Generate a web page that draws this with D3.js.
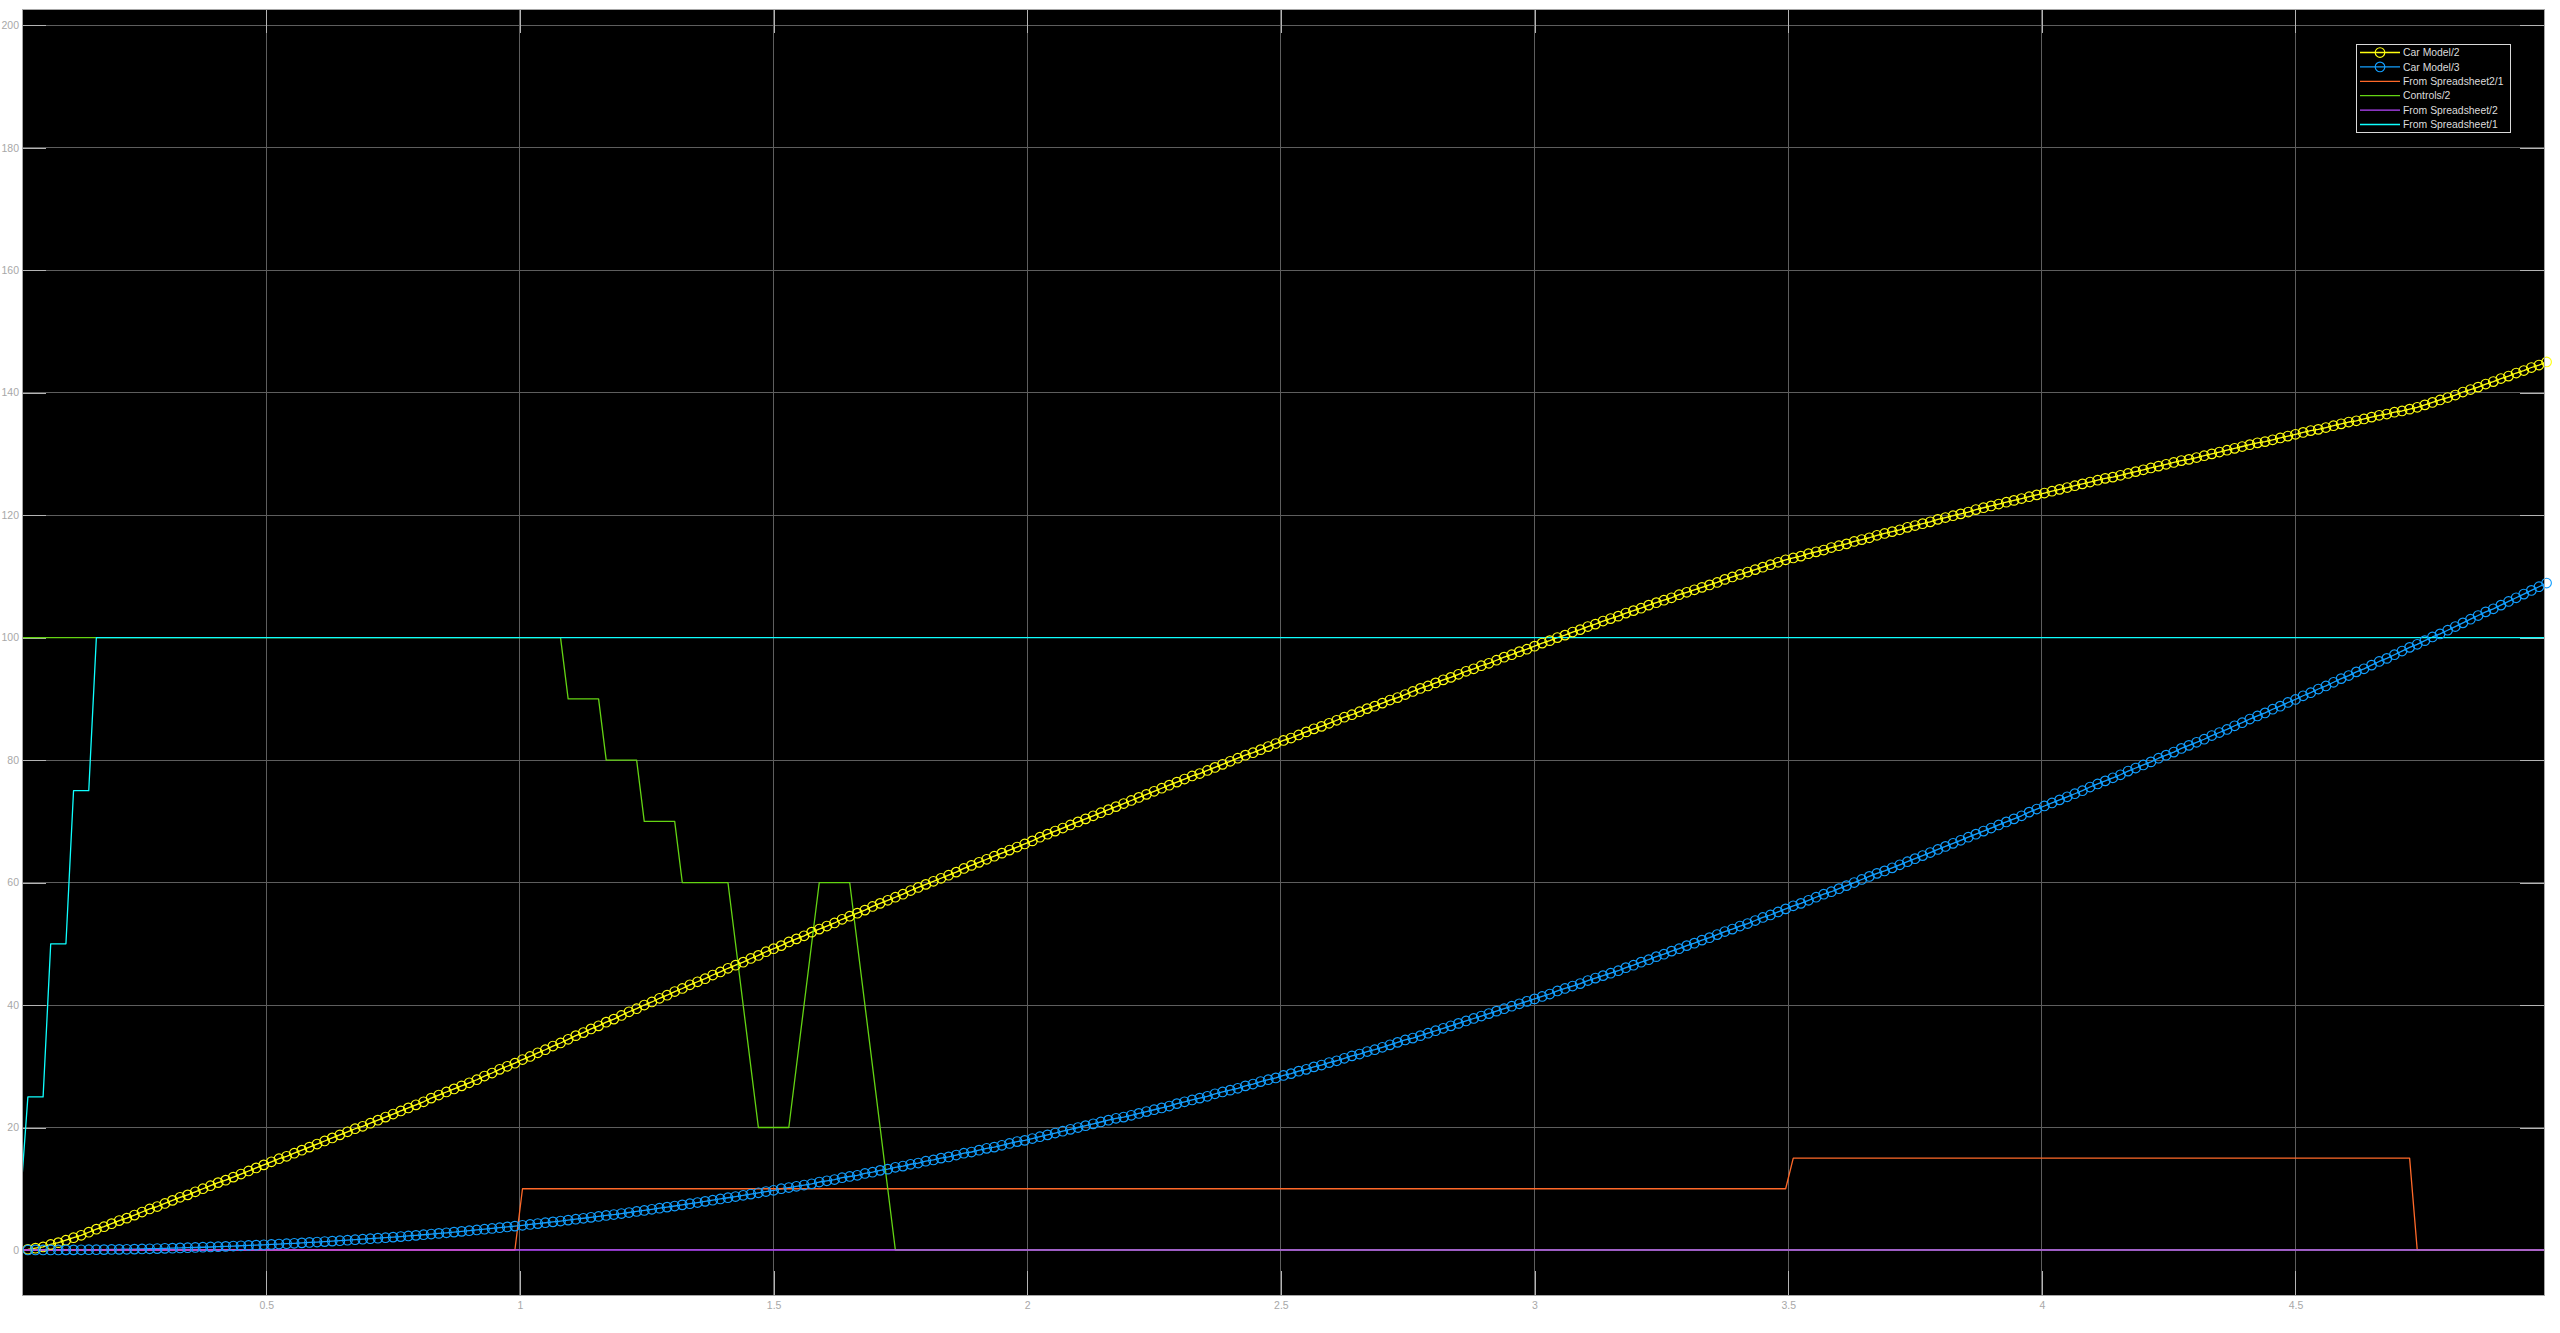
<!DOCTYPE html>
<html>
<head>
<meta charset="utf-8">
<script src="https://cdn.jsdelivr.net/npm/d3@7"></script>
<style>
  html, body {
    margin: 0;
    padding: 0;
    background: #fff;
  }

  svg {
    display: block;
    font-family: "Liberation Sans", Arial, sans-serif;
  }

  .tick text {
    fill: #a8a8a8;
    font-size: 10.5px;
  }

  .tick line {
    stroke: #b4b4b4;
  }
</style>
</head>
<body>
<svg id="chart" width="2560" height="1333"></svg>
<script>
//

// sample grid of the logged signals (seconds)
const sampleStart = 0.015
const sampleStep = 0.015

// Car Model/2, one value per logged sample
const carModel2 = [
  0.0, 0.1, 0.3, 0.5, 0.9, 1.2, 1.6, 2.0, 2.4, 2.9,
  3.4, 3.8, 4.3, 4.8, 5.2, 5.7, 6.2, 6.7, 7.1, 7.6,
  8.1, 8.6, 9.0, 9.5, 10.0, 10.5, 11.0, 11.4, 11.9, 12.4,
  12.9, 13.4, 13.9, 14.4, 14.9, 15.3, 15.8, 16.3, 16.8, 17.3,
  17.8, 18.3, 18.8, 19.3, 19.8, 20.2, 20.7, 21.2, 21.7, 22.2,
  22.7, 23.2, 23.7, 24.2, 24.8, 25.3, 25.8, 26.3, 26.8, 27.3,
  27.8, 28.4, 28.9, 29.5, 30.0, 30.5, 31.1, 31.6, 32.2, 32.7,
  33.3, 33.8, 34.4, 35.0, 35.5, 36.1, 36.6, 37.2, 37.7, 38.3,
  38.9, 39.4, 40.0, 40.5, 41.1, 41.6, 42.2, 42.7, 43.3, 43.8,
  44.3, 44.9, 45.4, 46.0, 46.5, 47.0, 47.6, 48.1, 48.7, 49.2,
  49.7, 50.3, 50.8, 51.3, 51.9, 52.4, 52.9, 53.4, 54.0, 54.5,
  55.0, 55.5, 56.1, 56.6, 57.1, 57.6, 58.1, 58.7, 59.2, 59.7,
  60.2, 60.7, 61.2, 61.7, 62.3, 62.8, 63.3, 63.8, 64.3, 64.8,
  65.3, 65.8, 66.3, 66.8, 67.4, 67.9, 68.4, 68.9, 69.4, 69.9,
  70.4, 70.9, 71.4, 71.9, 72.4, 72.9, 73.4, 73.9, 74.4, 74.9,
  75.4, 75.9, 76.4, 76.9, 77.4, 77.8, 78.3, 78.8, 79.3, 79.8,
  80.3, 80.8, 81.2, 81.7, 82.2, 82.7, 83.2, 83.6, 84.1, 84.6,
  85.1, 85.5, 86.0, 86.5, 87.0, 87.4, 87.9, 88.4, 88.8, 89.3,
  89.8, 90.2, 90.7, 91.2, 91.7, 92.1, 92.6, 93.1, 93.5, 94.0,
  94.5, 94.9, 95.4, 95.8, 96.3, 96.8, 97.2, 97.7, 98.1, 98.6,
  99.1, 99.5, 100.0, 100.4, 100.9, 101.3, 101.8, 102.2, 102.7, 103.1,
  103.5, 104.0, 104.4, 104.8, 105.3, 105.7, 106.1, 106.5, 107.0, 107.4,
  107.8, 108.2, 108.6, 109.0, 109.5, 109.9, 110.3, 110.7, 111.1, 111.5,
  111.9, 112.3, 112.7, 113.0, 113.3, 113.7, 114.0, 114.3, 114.7, 115.0,
  115.3, 115.7, 116.0, 116.3, 116.7, 117.0, 117.3, 117.6, 118.0, 118.3,
  118.6, 118.9, 119.3, 119.6, 119.9, 120.2, 120.5, 120.9, 121.2, 121.5,
  121.8, 122.1, 122.4, 122.7, 123.0, 123.3, 123.6, 123.9, 124.2, 124.5,
  124.8, 125.1, 125.4, 125.7, 126.0, 126.2, 126.5, 126.8, 127.1, 127.4,
  127.7, 128.0, 128.3, 128.6, 128.9, 129.1, 129.4, 129.7, 130.0, 130.3,
  130.6, 130.9, 131.2, 131.5, 131.8, 132.0, 132.3, 132.6, 132.9, 133.2,
  133.5, 133.8, 134.0, 134.3, 134.6, 134.9, 135.2, 135.4, 135.7, 136.0,
  136.3, 136.5, 136.8, 137.0, 137.3,
  137.6, 138.0, 138.4, 138.8, 139.2, 139.6, 140.1, 140.5, 140.9, 141.4,
  141.8, 142.3, 142.7, 143.2, 143.6, 144.1, 144.5, 145.0
]

// Car Model/3, one value per logged sample
const carModel3 = [
  0, 0, 0, 0, 0.01, 0.01, 0.02, 0.02, 0.03, 0.04,
  0.05, 0.06, 0.08, 0.1, 0.12, 0.14, 0.17, 0.2, 0.23, 0.27,
  0.3, 0.34, 0.37, 0.41, 0.45, 0.49, 0.54, 0.59, 0.64, 0.69,
  0.74, 0.79, 0.85, 0.91, 0.97, 1.03, 1.09, 1.16, 1.23, 1.3,
  1.37, 1.45, 1.52, 1.6, 1.68, 1.76, 1.84, 1.93, 2.01, 2.1,
  2.19, 2.29, 2.39, 2.49, 2.6, 2.71, 2.81, 2.92, 3.04, 3.15,
  3.27, 3.39, 3.52, 3.64, 3.77, 3.9, 4.03, 4.17, 4.31, 4.45,
  4.59, 4.73, 4.88, 5.03, 5.18, 5.33, 5.48, 5.64, 5.79, 5.95,
  6.12, 6.29, 6.46, 6.64, 6.82, 7.0, 7.18, 7.37, 7.56, 7.75,
  7.94, 8.13, 8.33, 8.53, 8.73, 8.93, 9.13, 9.34, 9.54, 9.75,
  10.0, 10.2, 10.4, 10.6, 10.8, 11.1, 11.3, 11.5, 11.8, 12.0,
  12.2, 12.5, 12.7, 13.0, 13.2, 13.5, 13.7, 14.0, 14.2, 14.5,
  14.7, 15.0, 15.2, 15.5, 15.8, 16.0, 16.3, 16.6, 16.8, 17.1,
  17.4, 17.7, 17.9, 18.2, 18.5, 18.8, 19.1, 19.4, 19.7, 20.0,
  20.3, 20.6, 20.9, 21.2, 21.5, 21.7, 22.0, 22.3, 22.6, 22.9,
  23.2, 23.5, 23.9, 24.2, 24.5, 24.8, 25.1, 25.5, 25.8, 26.1,
  26.4, 26.8, 27.1, 27.5, 27.8, 28.1, 28.5, 28.8, 29.2, 29.5,
  29.9, 30.2, 30.6, 30.9, 31.3, 31.7, 32.0, 32.4, 32.7, 33.1,
  33.5, 33.9, 34.3, 34.6, 35.0, 35.4, 35.8, 36.2, 36.6, 37.0,
  37.4, 37.8, 38.2, 38.6, 39.0, 39.4, 39.8, 40.2, 40.6, 41.0,
  41.4, 41.8, 42.3, 42.7, 43.1, 43.5, 44.0, 44.4, 44.8, 45.2,
  45.6, 46.1, 46.5, 47.0, 47.4, 47.9, 48.3, 48.8, 49.2, 49.7,
  50.1, 50.6, 51.0, 51.5, 52.0, 52.4, 52.9, 53.3, 53.8, 54.3,
  54.7, 55.2, 55.7, 56.2, 56.6, 57.1, 57.6, 58.1, 58.5, 59.0,
  59.5, 60.0, 60.5, 61.0, 61.5, 61.9, 62.4, 62.9, 63.4, 63.9,
  64.4, 64.9, 65.4, 65.9, 66.4, 66.9, 67.4, 67.9, 68.4, 68.9,
  69.4, 69.9, 70.4, 70.9, 71.5, 72.0, 72.5, 73.0, 73.5, 74.0,
  74.5, 75.0, 75.6, 76.1, 76.6, 77.1, 77.6, 78.2, 78.7, 79.2,
  79.7, 80.3, 80.8, 81.3, 81.9, 82.4, 82.9, 83.4, 84.0, 84.5,
  85.0, 85.6, 86.1, 86.7, 87.2, 87.7, 88.3, 88.8, 89.4, 89.9,
  90.5, 91.0, 91.6, 92.1, 92.7, 93.3, 93.8, 94.4, 94.9, 95.5,
  96.1, 96.6, 97.2, 97.8, 98.4, 98.9, 99.5, 100.1, 100.6, 101.2,
  101.8, 102.4, 103.0, 103.6, 104.2, 104.7, 105.3, 105.9, 106.5, 107.1,
  107.7, 108.3, 108.9
]

// step signals as [time, value] breakpoints
const spreadsheet2Out1 = [
  [0.015, 0], [0.99, 0], [1.005, 10], [3.495, 10], [3.51, 15],
  [4.725, 15], [4.74, 0], [4.995, 0]
]

const controlsOut2 = [
  [0.015, 100], [1.08, 100], [1.095, 90], [1.155, 90], [1.17, 80],
  [1.23, 80], [1.245, 70], [1.305, 70], [1.32, 60], [1.41, 60],
  [1.47, 20], [1.53, 20], [1.59, 60], [1.65, 60], [1.74, 0], [4.995, 0]
]

const spreadsheetOut2 = [
  [0.015, 0], [4.995, 0]
]

const spreadsheetOut1 = [
  [0.008, 0], [0.03, 25], [0.06, 25], [0.075, 50], [0.105, 50],
  [0.12, 75], [0.15, 75], [0.165, 100], [4.995, 100]
]

const seriesNames = [
  'Car Model/2',
  'Car Model/3',
  'From Spreadsheet2/1',
  'Controls/2',
  'From Spreadsheet/2',
  'From Spreadsheet/1'
]

const xTicks = [0.5, 1, 1.5, 2, 2.5, 3, 3.5, 4, 4.5]
const yTicks = [0, 20, 40, 60, 80, 100, 120, 140, 160, 180, 200]

//

const colors = ['#ffff11', '#139fff', '#ff6929', '#64d413', '#b746ff', '#0fffff']

const plot = { left: 22, top: 9, right: 2544, bottom: 1295 }
const tickLength = 24

const sampled = (values) => values.map((v, i) => [sampleStart + i * sampleStep, v])

const series = [
  { values: sampled(carModel2), markers: true },
  { values: sampled(carModel3), markers: true },
  { values: spreadsheet2Out1, markers: false },
  { values: controlsOut2, markers: false },
  { values: spreadsheetOut2, markers: false },
  { values: spreadsheetOut1, markers: false }
].map((s, i) => Object.assign(s, { name: seriesNames[i], color: colors[i] }))

const svg = d3.select('#chart')

const x = d3.scaleLinear()
  .domain([0.0184, 4.9899])
  .range([plot.left, plot.right])

const y = d3.scaleLinear()
  .domain([-7.35, 202.64])
  .range([plot.bottom, plot.top])

svg.append('rect')
  .attr('width', 2560)
  .attr('height', 1333)
  .attr('fill', '#fff')

svg.append('rect')
  .attr('x', plot.left)
  .attr('y', plot.top)
  .attr('width', plot.right - plot.left)
  .attr('height', plot.bottom - plot.top)
  .attr('fill', '#000')

svg.append('clipPath')
  .attr('id', 'plot-clip')
  .append('rect')
  .attr('x', plot.left)
  .attr('y', plot.top)
  .attr('width', plot.right - plot.left)
  .attr('height', plot.bottom - plot.top)

// grid
const grid = svg.append('g')
  .attr('stroke', '#5e5e5e')
  .attr('stroke-width', 1)
  .attr('shape-rendering', 'crispEdges')

grid.selectAll('.vgrid')
  .data(xTicks)
  .enter()
  .append('line')
  .attr('x1', (d) => x(d))
  .attr('x2', (d) => x(d))
  .attr('y1', plot.top)
  .attr('y2', plot.bottom)

grid.selectAll('.hgrid')
  .data(yTicks)
  .enter()
  .append('line')
  .attr('x1', plot.left)
  .attr('x2', plot.right)
  .attr('y1', (d) => y(d))
  .attr('y2', (d) => y(d))

// axes, ticks pointing inward
const xAxis = d3.axisBottom(x)
  .tickValues(xTicks)
  .tickFormat((d) => String(d))
  .tickSize(-tickLength)
  .tickPadding(7)

const yAxis = d3.axisLeft(y)
  .tickValues(yTicks)
  .tickFormat((d) => String(d))
  .tickSize(-tickLength)
  .tickPadding(3)

const gX = svg.append('g')
  .attr('transform', `translate(0, ${plot.bottom})`)
  .attr('shape-rendering', 'crispEdges')
  .call(xAxis)

const gY = svg.append('g')
  .attr('transform', `translate(${plot.left}, 0)`)
  .attr('shape-rendering', 'crispEdges')
  .call(yAxis)

gX.select('.domain').remove()
gY.select('.domain').remove()
gX.selectAll('text').attr('font-family', null).attr('font-size', null)
gY.selectAll('text').attr('font-family', null).attr('font-size', null)
svg.selectAll('.tick line').attr('stroke', null)
svg.selectAll('.tick text').attr('fill', null)

// opposite-side ticks
const gXTop = svg.append('g')
  .attr('transform', `translate(0, ${plot.top})`)
  .attr('shape-rendering', 'crispEdges')
  .call(d3.axisTop(x).tickValues(xTicks).tickSize(-tickLength).tickFormat(''))

const gYRight = svg.append('g')
  .attr('transform', `translate(${plot.right}, 0)`)
  .attr('shape-rendering', 'crispEdges')
  .call(d3.axisRight(y).tickValues(yTicks).tickSize(-tickLength).tickFormat(''))

gXTop.select('.domain').remove()
gYRight.select('.domain').remove()
svg.selectAll('.tick line').attr('stroke', null)

// data
const line = d3.line()
  .x((d) => x(d[0]))
  .y((d) => y(d[1]))

const lines = svg.append('g')
  .attr('clip-path', 'url(#plot-clip)')

series.forEach((s) => {
  lines.append('path')
    .datum(s.values)
    .attr('fill', 'none')
    .attr('stroke', s.color)
    .attr('stroke-width', 1.3)
    .attr('stroke-linejoin', 'round')
    .attr('d', line)

  if (s.markers) {
    svg.append('g')
      .selectAll('circle')
      .data(s.values.filter((d) => x(d[0]) >= plot.left))
      .enter()
      .append('circle')
      .attr('cx', (d) => x(d[0]))
      .attr('cy', (d) => y(d[1]))
      .attr('r', 4.8)
      .attr('fill', 'none')
      .attr('stroke', s.color)
      .attr('stroke-width', 1.15)
  }
})

// border
svg.append('rect')
  .attr('x', plot.left)
  .attr('y', plot.top)
  .attr('width', plot.right - plot.left)
  .attr('height', plot.bottom - plot.top)
  .attr('fill', 'none')
  .attr('stroke', '#a6a6a6')
  .attr('stroke-width', 1)
  .attr('shape-rendering', 'crispEdges')

// legend
const legend = svg.append('g')
  .attr('transform', 'translate(2356, 44)')

legend.append('rect')
  .attr('width', 154)
  .attr('height', 88)
  .attr('fill', '#000')
  .attr('stroke', '#d9d9d9')
  .attr('stroke-width', 1)
  .attr('shape-rendering', 'crispEdges')

const rows = legend.selectAll('.entry')
  .data(series)
  .enter()
  .append('g')
  .attr('class', 'entry')
  .attr('transform', (d, i) => `translate(0, ${8.5 + i * 14.4})`)

rows.append('line')
  .attr('x1', 4)
  .attr('x2', 44)
  .attr('stroke', (d) => d.color)
  .attr('stroke-width', 1.3)

rows.filter((d) => d.markers)
  .append('circle')
  .attr('cx', 24)
  .attr('r', 4.8)
  .attr('fill', 'none')
  .attr('stroke', (d) => d.color)
  .attr('stroke-width', 1.15)

rows.append('text')
  .attr('x', 47)
  .attr('dy', '0.35em')
  .attr('fill', '#dcdcdc')
  .attr('font-size', 10.4)
  .text((d) => d.name)

//
</script>
</body>
</html>
